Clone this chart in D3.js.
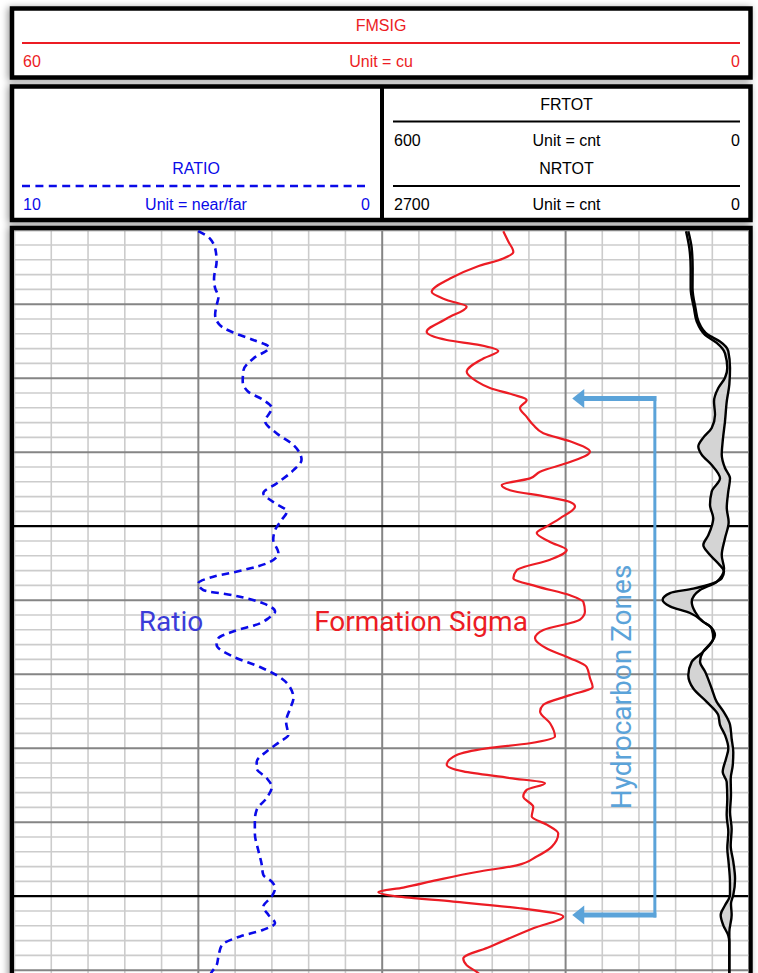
<!DOCTYPE html>
<html>
<head>
<meta charset="utf-8">
<script src="https://cdn.jsdelivr.net/npm/d3@7"></script>
<style>
  body { margin: 0; background: #fff; }
  svg { display: block; }
  .hdr { font-family: "Liberation Sans", Arial, sans-serif; font-size: 16px; }
  .big { font-family: Roboto, "Open Sans", sans-serif; font-size: 28px; }
</style>
</head>
<body>
<div id="chart"></div>
<script>
// ---- data (depth in ft) ----
var ratioDepth = [4960.2, 4961.2, 4963.0, 4964.3, 4966.6, 4967.9, 4969.1, 4970.2, 4971.5, 4972.9, 4973.9, 4974.9, 4975.9, 4977.4, 4979.0, 4980.5, 4981.9, 4983.0, 4984.1, 4985.9, 4987.5, 4989.1, 4991.1, 4992.5, 4994.3, 4995.6, 4996.8, 4998.1, 4999.2, 5000.6, 5001.9, 5003.7, 5004.9, 5006.0, 5006.9, 5007.8, 5008.7, 5009.4, 5010.5, 5011.6, 5012.5, 5013.2, 5014.3, 5015.2, 5016.1, 5017.7, 5019.1, 5020.2, 5021.5, 5023.3, 5024.7, 5026.5, 5028.3, 5029.2, 5030.5, 5031.9, 5032.8, 5034.1, 5035.3, 5036.8, 5038.4, 5039.8, 5041.6, 5043.8, 5045.6, 5047.2, 5048.1, 5049.0, 5050.1, 5051.5, 5052.6, 5053.7, 5054.6, 5055.5, 5056.7, 5058.2, 5059.4, 5060.3, 5062.1];
var ratioVals = [4.99, 4.67, 4.51, 4.49, 4.56, 4.53, 4.44, 4.49, 4.53, 4.40, 4.04, 3.49, 3.06, 3.49, 3.76, 3.78, 3.63, 3.22, 2.99, 3.17, 2.86, 2.40, 2.18, 2.40, 2.86, 3.22, 2.95, 2.58, 2.72, 2.90, 2.95, 2.81, 3.04, 3.76, 4.58, 4.99, 4.85, 4.04, 3.22, 2.90, 3.08, 3.31, 4.04, 4.44, 4.49, 4.04, 3.31, 2.86, 2.54, 2.40, 2.49, 2.60, 2.54, 2.77, 3.13, 3.40, 3.40, 3.13, 2.99, 3.13, 3.40, 3.45, 3.45, 3.36, 3.27, 3.22, 2.99, 2.90, 2.99, 3.22, 3.08, 2.90, 3.22, 3.85, 4.35, 4.44, 4.49, 4.62, 4.75];

var sigmaDepth = [4960.2, 4961.6, 4963.0, 4963.9, 4965.0, 4966.6, 4968.4, 4969.5, 4970.4, 4972.0, 4973.8, 4974.9, 4975.6, 4976.4, 4977.4, 4979.2, 4980.5, 4981.4, 4982.3, 4983.0, 4984.1, 4985.3, 4986.4, 4987.5, 4988.6, 4990.0, 4991.4, 4992.7, 4993.6, 4994.5, 4995.2, 4996.1, 4996.8, 4997.4, 4999.0, 5000.1, 5001.0, 5002.2, 5003.3, 5004.6, 5006.0, 5007.1, 5008.2, 5009.4, 5010.3, 5011.6, 5012.7, 5014.1, 5015.2, 5016.6, 5017.9, 5019.1, 5020.6, 5021.8, 5022.9, 5024.2, 5025.1, 5026.7, 5028.5, 5029.4, 5030.1, 5031.0, 5032.3, 5033.2, 5034.1, 5034.8, 5035.7, 5036.6, 5038.0, 5039.3, 5040.4, 5041.6, 5043.4, 5044.7, 5045.9, 5046.8, 5047.9, 5048.9, 5049.5, 5050.1, 5050.8, 5051.7, 5052.8, 5054.4, 5056.9, 5058.5, 5059.4, 5060.3, 5062.1];
var sigmaVals = [20.03, 19.62, 19.21, 20.03, 22.20, 24.38, 25.88, 24.65, 23.02, 24.65, 26.29, 24.65, 21.93, 20.44, 21.66, 23.02, 22.20, 21.12, 19.21, 18.12, 18.67, 18.12, 17.58, 16.76, 14.58, 12.95, 14.58, 17.03, 17.85, 20.16, 19.48, 16.48, 14.58, 14.17, 15.40, 16.48, 17.30, 16.21, 14.85, 16.21, 18.93, 19.21, 17.30, 14.58, 13.49, 13.36, 13.76, 16.76, 17.44, 16.48, 14.58, 13.22, 12.95, 12.73, 14.58, 16.76, 17.03, 16.21, 15.81, 17.85, 21.39, 23.84, 24.65, 23.30, 19.48, 16.62, 18.12, 18.40, 17.58, 17.71, 16.48, 15.54, 16.08, 17.30, 18.93, 22.20, 25.47, 28.20, 30.24, 28.74, 24.11, 18.67, 15.13, 17.58, 21.12, 23.30, 23.02, 22.20, 21.12];

var frtotDepth = [4960.2, 4962.5, 4965.2, 4967.9, 4970.6, 4972.4, 4974.2, 4975.3, 4976.7, 4978.7, 4980.0, 4981.4, 4983.2, 4985.0, 4986.8, 4988.1, 4989.3, 4990.4, 4991.8, 4993.6, 4995.4, 4997.2, 4999.0, 5001.3, 5002.6, 5003.7, 5005.1, 5006.2, 5007.1, 5008.5, 5009.1, 5010.0, 5010.9, 5011.8, 5013.0, 5013.9, 5015.2, 5017.0, 5018.4, 5020.2, 5022.0, 5023.8, 5025.6, 5026.9, 5028.3, 5030.1, 5031.5, 5033.3, 5034.6, 5036.9, 5039.1, 5041.4, 5043.6, 5045.4, 5048.2, 5049.9, 5051.3, 5052.6, 5054.0, 5055.4, 5056.3, 5060.3, 5062.1];
var frtotVals = [102.2, 96.8, 94.6, 94.6, 89.2, 84.7, 71.2, 52.0, 38.4, 34.7, 38.4, 49.4, 56.4, 54.8, 60.2, 73.9, 82.1, 76.6, 60.2, 46.6, 60.2, 63.0, 57.6, 65.8, 73.9, 65.8, 49.4, 40.1, 43.8, 90.3, 128.4, 140.4, 128.4, 95.7, 73.9, 60.2, 57.6, 73.9, 92.9, 98.5, 90.3, 68.4, 49.4, 46.6, 38.4, 33.0, 36.8, 42.2, 35.7, 34.7, 35.7, 33.0, 34.7, 32.7, 30.3, 30.3, 38.4, 45.5, 41.2, 33.0, 31.4, 31.4, 31.4];

var nrtotDepth = [4960.2, 4962.5, 4965.2, 4967.9, 4970.6, 4972.4, 4974.2, 4975.1, 4976.4, 4978.7, 4980.9, 4983.2, 4985.9, 4988.6, 4990.4, 4992.2, 4993.6, 4995.4, 4997.6, 4999.5, 5001.7, 5004.0, 5005.8, 5007.6, 5008.7, 5010.3, 5011.6, 5013.0, 5013.6, 5014.8, 5015.7, 5017.0, 5018.4, 5019.7, 5022.0, 5023.8, 5025.1, 5026.9, 5028.8, 5030.6, 5032.4, 5034.2, 5036.4, 5038.7, 5041.0, 5043.2, 5045.4, 5047.7, 5049.9, 5051.1, 5052.6, 5054.9, 5056.3, 5060.3, 5062.1];
var nrtotVals = [443, 418, 411, 412, 390, 368, 298, 210, 149, 136, 141, 160, 173, 190, 197, 173, 136, 149, 160, 146, 173, 197, 180, 234, 357, 418, 394, 333, 283, 247, 271, 333, 357, 320, 271, 234, 185, 136, 124, 112, 116, 131, 129, 136, 124, 131, 112, 99, 112, 129, 124, 141, 141, 141, 141];

// hydrocarbon zone marker (top / bottom depth)
var hcZone = [4982.8, 5052.6];

// header labels
var sigmaHeader = ["FMSIG", "60", "Unit = cu", "0"];
var ratioHeader = ["RATIO", "10", "Unit = near/far", "0"];
var frtotHeader = ["FRTOT", "600", "Unit = cnt", "0"];
var nrtotHeader = ["NRTOT", "2700", "Unit = cnt", "0"];

var W = 758, H = 973;
var red = "#ec1c24", blue = "#0a0ae8", hcBlue = "#5ba3d9";

var track = { left: 14, mid: 381.7, right: 748.5, top: 230, bottom: 1000 };

var svg = d3.select("#chart").append("svg")
    .attr("width", W)
    .attr("height", H);

var defs = svg.append("defs");
var shadow = defs.append("filter").attr("id", "shadow")
    .attr("x", -0.05).attr("y", -0.05).attr("width", 1.1).attr("height", 1.1);
shadow.append("feDropShadow")
    .attr("dx", -2).attr("dy", 1)
    .attr("stdDeviation", 3.5)
    .attr("flood-color", "#000")
    .attr("flood-opacity", 0.4);
defs.append("clipPath").attr("id", "trackClip")
    .append("rect")
    .attr("x", track.left).attr("y", track.top)
    .attr("width", track.right - track.left)
    .attr("height", track.bottom - track.top);

// ---- scales ----
var yScale = d3.scaleLinear().domain([4960, 5060]).range([229.7, 969.7]);
var xRatio = d3.scaleLinear().domain([10, 0]).range([track.left, track.mid]);
var xSigma = d3.scaleLinear().domain([60, 0]).range([track.left, track.right]);
var xFrtot = d3.scaleLinear().domain([600, 0]).range([track.mid, track.right]);
var xNrtot = d3.scaleLinear().domain([2700, 0]).range([track.mid, track.right]);

// ---- frames (with shadow) ----
var frames = svg.append("g").attr("filter", "url(#shadow)");
frames.append("rect").attr("x", 12).attr("y", 8.5).attr("width", 738.5).attr("height", 69)
    .attr("fill", "#fff").attr("stroke", "#000").attr("stroke-width", 4.5);
frames.append("rect").attr("x", 12).attr("y", 86.5).attr("width", 738.5).attr("height", 133.5)
    .attr("fill", "#fff").attr("stroke", "#000").attr("stroke-width", 4.5);
frames.append("rect").attr("x", 12).attr("y", 228).attr("width", 738.5).attr("height", 800)
    .attr("fill", "#fff").attr("stroke", "#000").attr("stroke-width", 4.5);

// ---- grid ----
var grid = svg.append("g").attr("clip-path", "url(#trackClip)");

function drawGrid(axis, transform, color, width) {
    var g = grid.append("g").attr("transform", transform).call(axis);
    g.select(".domain").remove();
    g.selectAll(".tick text").remove();
    g.selectAll(".tick line").attr("stroke", color).attr("stroke-width", width);
}

var depthTicks = d3.range(4960, 5066, 2);
var minorDepth = depthTicks.filter(function (d) { return d % 10 != 0; });
var majorDepth = depthTicks.filter(function (d) { return d % 10 == 0 && d % 50 != 0; });
var heavyDepth = depthTicks.filter(function (d) { return d % 50 == 0; });

var ratioTicks = d3.range(0, 11);
var frtotTicks = d3.range(0, 601, 60);
var vHeight = track.bottom - track.top;
var hWidth = track.right - track.left;

drawGrid(d3.axisTop(xRatio).tickValues(ratioTicks.filter(function (d) { return d != 5 && d != 0; }))
    .tickSize(-vHeight).tickFormat(""), "translate(0," + track.top + ")", "#cccccc", 1.6);
drawGrid(d3.axisTop(xFrtot).tickValues(frtotTicks.filter(function (d) { return d != 300 && d != 600; }))
    .tickSize(-vHeight).tickFormat(""), "translate(0," + track.top + ")", "#cccccc", 1.6);
drawGrid(d3.axisLeft(yScale).tickValues(minorDepth).tickSize(-hWidth).tickFormat(""),
    "translate(" + track.left + ",0)", "#cccccc", 1.6);
drawGrid(d3.axisTop(xRatio).tickValues([5, 0]).tickSize(-vHeight).tickFormat(""),
    "translate(0," + track.top + ")", "#858585", 2);
drawGrid(d3.axisTop(xFrtot).tickValues([300]).tickSize(-vHeight).tickFormat(""),
    "translate(0," + track.top + ")", "#858585", 2);
drawGrid(d3.axisLeft(yScale).tickValues(majorDepth).tickSize(-hWidth).tickFormat(""),
    "translate(" + track.left + ",0)", "#858585", 2);
drawGrid(d3.axisLeft(yScale).tickValues(heavyDepth).tickSize(-hWidth).tickFormat(""),
    "translate(" + track.left + ",0)", "#000", 2.2);

// ---- curves ----
var curves = svg.append("g").attr("clip-path", "url(#trackClip)");

function pairs(depths, vals) {
    return depths.map(function (d, i) { return { depth: d, v: vals[i] }; });
}

function lineFor(xs) {
    return d3.line()
        .x(function (d) { return xs(d.v); })
        .y(function (d) { return yScale(d.depth); })
        .curve(d3.curveMonotoneY);
}

var frData = pairs(frtotDepth, frtotVals);
var nrData = pairs(nrtotDepth, nrtotVals);
var frLine = lineFor(xFrtot), nrLine = lineFor(xNrtot);

// shade between FRTOT and NRTOT
var fillPath = frLine(frData) + "L" + nrLine(nrData.slice().reverse()).substring(1) + "Z";
curves.append("path")
    .attr("d", fillPath)
    .attr("fill", "#d4d4d4")
    .attr("stroke", "none");

curves.append("path").attr("d", frLine(frData))
    .attr("fill", "none").attr("stroke", "#000").attr("stroke-width", 2.4);
curves.append("path").attr("d", nrLine(nrData))
    .attr("fill", "none").attr("stroke", "#000").attr("stroke-width", 2.4);

curves.append("path").attr("d", lineFor(xSigma)(pairs(sigmaDepth, sigmaVals)))
    .attr("fill", "none").attr("stroke", red).attr("stroke-width", 2.2);

curves.append("path").attr("d", lineFor(xRatio)(pairs(ratioDepth, ratioVals)))
    .attr("fill", "none").attr("stroke", blue).attr("stroke-width", 2.6)
    .attr("stroke-dasharray", "7.5,5");

// ---- hydrocarbon zone bracket ----
var hcX = xSigma(7.65), tipX = xSigma(14.4);
var hc = svg.append("g").attr("fill", hcBlue).attr("stroke", hcBlue);
hc.append("line")
    .attr("x1", hcX).attr("x2", hcX)
    .attr("y1", yScale(hcZone[0]) - 2.5).attr("y2", yScale(hcZone[1]) + 2.5)
    .attr("stroke-width", 3);
hcZone.forEach(function (d) {
    var y = yScale(d);
    hc.append("line")
        .attr("x1", hcX + 1.5).attr("x2", tipX + 10)
        .attr("y1", y).attr("y2", y)
        .attr("stroke-width", 5);
    hc.append("path")
        .attr("d", "M" + tipX + "," + y + "L" + (tipX + 12) + "," + (y - 9.5) + "L" + (tipX + 12) + "," + (y + 9.5) + "Z")
        .attr("stroke", "none");
});

svg.append("text").attr("class", "big")
    .attr("transform", "translate(631,687) rotate(-90)")
    .attr("text-anchor", "middle")
    .attr("fill", hcBlue)
    .text("Hydrocarbon Zones");

svg.append("text").attr("class", "big")
    .attr("x", 171).attr("y", 631)
    .attr("text-anchor", "middle")
    .attr("fill", "#3c3cd8")
    .text("Ratio");

svg.append("text").attr("class", "big")
    .attr("x", 421).attr("y", 631)
    .attr("text-anchor", "middle")
    .attr("fill", red)
    .text("Formation Sigma");

// ---- headers ----
function header(labels, x0, x1, yTitle, yLine, color, dashed) {
    var g = svg.append("g").attr("class", "hdr").attr("fill", color);
    var cx = (x0 + x1) / 2;
    g.append("text").attr("x", cx).attr("y", yTitle).attr("text-anchor", "middle").text(labels[0]);
    g.append("line")
        .attr("x1", x0).attr("x2", x1).attr("y1", yLine).attr("y2", yLine)
        .attr("stroke", color).attr("stroke-width", dashed ? 2.6 : 2)
        .attr("stroke-dasharray", dashed ? "8,5.4" : null);
    g.append("text").attr("x", x0 + 1).attr("y", yLine + 24).text(labels[1]);
    g.append("text").attr("x", cx).attr("y", yLine + 24).attr("text-anchor", "middle").text(labels[2]);
    g.append("text").attr("x", x1).attr("y", yLine + 24).attr("text-anchor", "end").text(labels[3]);
}

header(sigmaHeader, 22, 740, 31, 43, red, false);
header(ratioHeader, 22, 370, 174, 186, blue, true);
header(frtotHeader, 393, 740, 109.5, 121.5, "#000", false);
header(nrtotHeader, 393, 740, 174, 186, "#000", false);

// divider between the two lower header cells
svg.append("line")
    .attr("x1", 382).attr("x2", 382).attr("y1", 86.5).attr("y2", 220)
    .attr("stroke", "#000").attr("stroke-width", 4);
</script>
</body>
</html>
